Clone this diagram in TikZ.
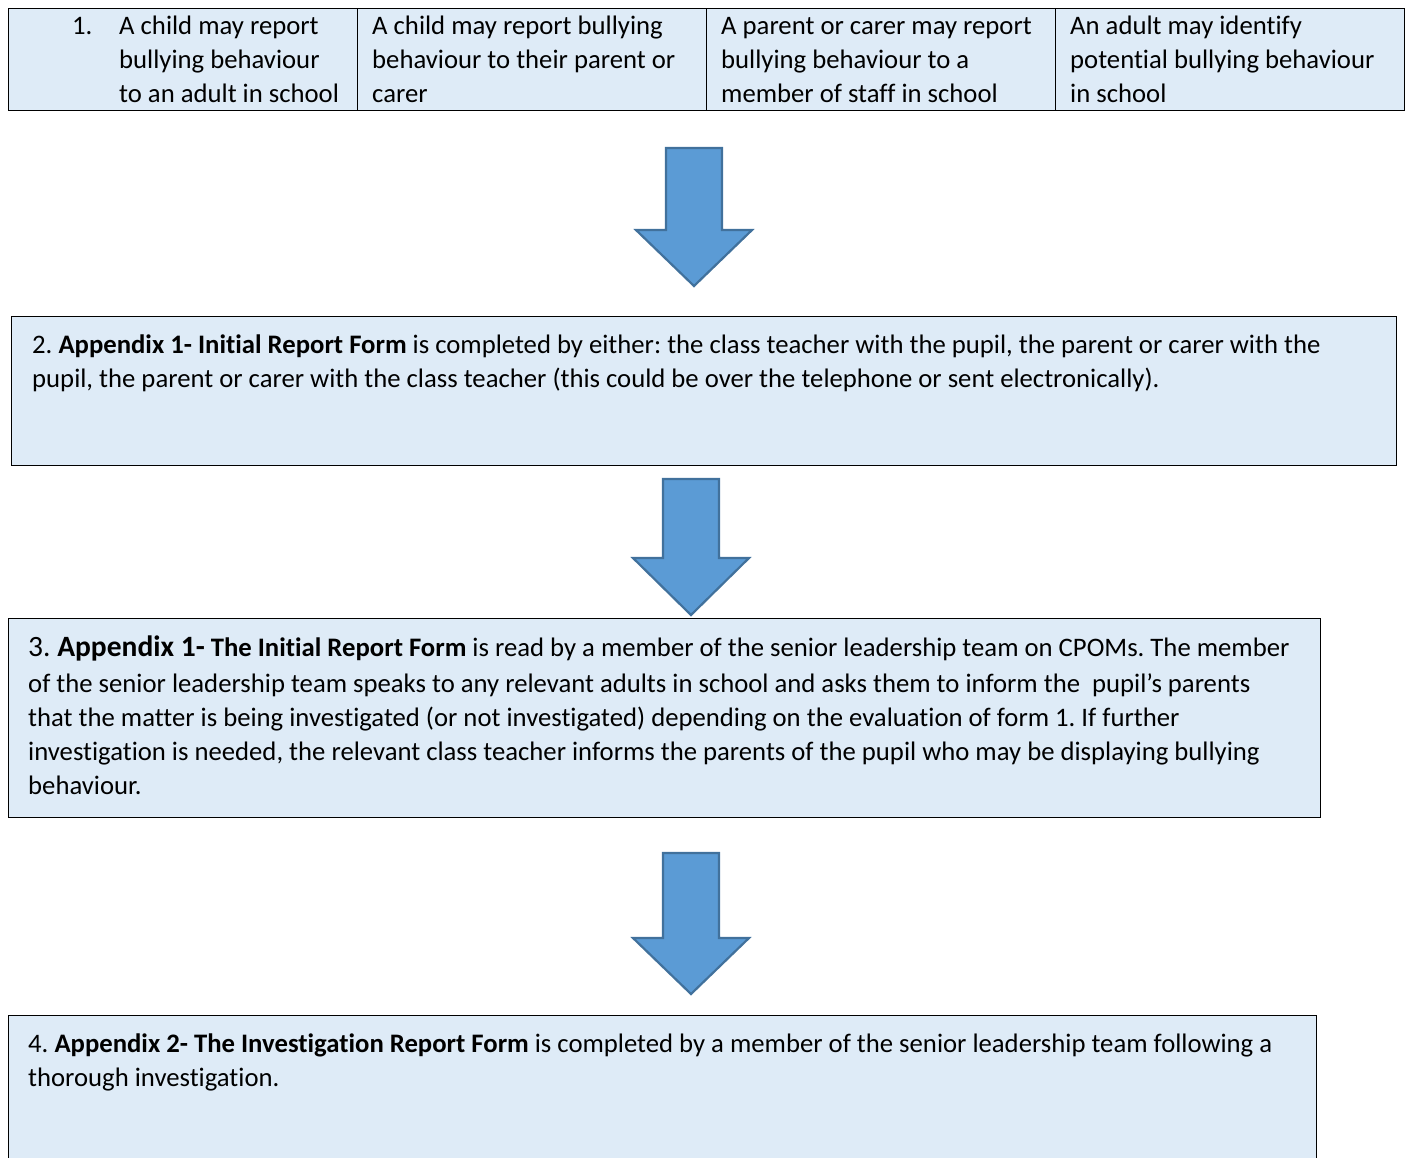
\documentclass[tikz,border=0pt]{standalone}
\usepackage{fontspec}
\setmainfont{Carlito}[Ligatures=NoCommon]
\frenchspacing
\definecolor{boxfill}{HTML}{DEEBF7}
\definecolor{arrfill}{HTML}{5B9BD5}
\definecolor{arrline}{HTML}{41719C}
\newcommand\blockarrow[4]{\draw[barrow] (#1-28,#2) -- (#1+28,#2) -- (#1+28,#3) -- (#1+58,#3) -- (#1,#4) -- (#1-58,#3) -- (#1-28,#3) -- cycle;}
\begin{document}
\begin{tikzpicture}[x=1pt,y=-1pt,
  box/.style={draw=black, line width=1.3pt, fill=boxfill, anchor=north west, inner sep=0, minimum width=#1},
  cell/.style={box=349, minimum height=102},
  txt/.style={anchor=base west, align=left, inner sep=0, font=\fontsize{26.7}{34}\selectfont\frenchspacing},
  barrow/.style={draw=arrline, line width=2.2pt, fill=arrfill, line join=miter}]
\useasboundingbox (0,0) rectangle (1408,1157);
\clip (0,0) rectangle (1408,1157);
% top row
\node[cell] (c1) at (8,8) {};
\node[cell] (c2) at (357,8) {};
\node[cell] (c3) at (706,8) {};
\node[cell] (c4) at (1055,8) {};
\node[txt] (n1) at (72,34) {1.};
\node[txt] (t1) at (119,102) {A child may report\\bullying behaviour\\to an adult in school};
\node[txt] (t2) at (372,102) {A child may report bullying\\behaviour to their parent or\\carer};
\node[txt] (t3) at (721,102) {A parent or carer may report\\bullying behaviour to a\\member of staff in school};
\node[txt] (t4) at (1070,102) {An adult may identify\\potential bullying behaviour\\in school};
% arrows
\blockarrow{694}{148}{230}{286}
\blockarrow{691}{479}{558}{615}
\blockarrow{691}{853}{938}{994}
% box 2
\node[box=1385, minimum height=149] (b2) at (11,316) {};
\node[txt] (t5) at (32,387) {2. \textbf{Appendix 1- Initial Report Form} is completed by either: the class teacher with the pupil, the parent or carer with the\\pupil, the parent or carer with the class teacher (this could be over the telephone or sent electronically).};
% box 3
\node[box=1312, minimum height=199] (b3) at (8,618) {};
\node[txt] (t6) at (28,794) {{\fontsize{29.5}{34}\selectfont 3. \textbf{Appendix 1-}} \textbf{The Initial Report Form} is read by a member of the senior leadership team on CPOMs. The member\\[2pt]of the senior leadership team speaks to any relevant adults in school and asks them to inform the\ \ pupil’s parents\\that the matter is being investigated (or not investigated) depending on the evaluation of form 1. If further\\investigation is needed, the relevant class teacher informs the parents of the pupil who may be displaying bullying\\behaviour.};
% box 4
\node[box=1308, minimum height=200] (b4) at (8,1015) {};
\node[txt] (t7) at (28,1086) {4. \textbf{Appendix 2- The Investigation Report Form} is completed by a member of the senior leadership team following a\\thorough investigation.};
\end{tikzpicture}
\end{document}
